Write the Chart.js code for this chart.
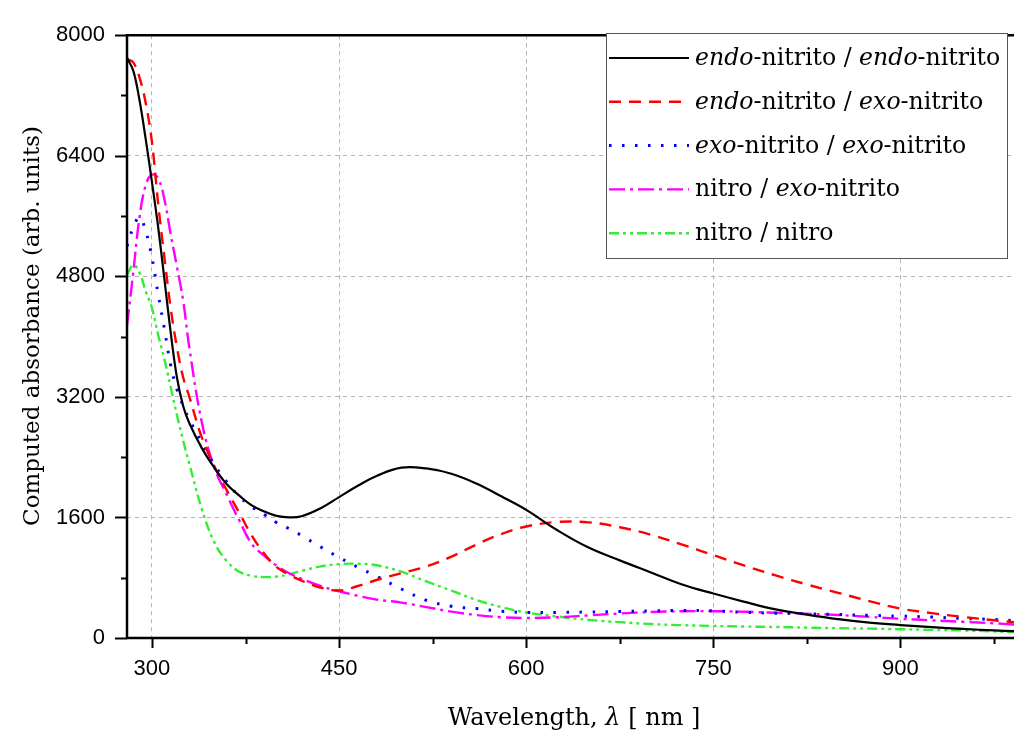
<!DOCTYPE html>
<html>
<head>
<meta charset="utf-8">
<script src="https://cdn.jsdelivr.net/npm/chart.js@4"></script>
<style>
  html, body { margin: 0; padding: 0; background: #fff; }
  canvas { display: block; }
</style>
</head>
<body>
<canvas id="spectra" width="1014" height="733"></canvas>
<script>
// wavelength grid (nm)
const wavelengths = [280, 285, 290, 295, 300, 305, 310, 315, 320, 325, 330, 340, 350, 360, 370, 380, 390, 400, 410, 420,
  435, 450, 465, 480, 500, 520, 540, 560, 580, 600, 625, 650, 675, 700, 725, 750, 775, 800, 825, 850, 875, 900, 925, 950, 975, 991];

// computed absorbance per isomer pair (arb. units)
const endoEndo = [7700, 7530, 7140, 6620, 6050, 5450, 4760, 4060, 3460, 3080, 2850, 2520, 2260, 2040, 1890, 1760, 1680, 1620, 1600, 1615,
  1720, 1870, 2020, 2150, 2260, 2250, 2180, 2050, 1880, 1700, 1430, 1200, 1030, 870, 710, 590, 480, 380, 310, 250, 205, 172, 145, 120, 100, 90];
const endoExo = [7680, 7640, 7440, 7100, 6580, 5760, 5050, 4380, 3860, 3460, 3200, 2660, 2280, 1960, 1660, 1360, 1120, 940, 840, 760,
  670, 630, 690, 770, 860, 950, 1080, 1240, 1380, 1480, 1540, 1535, 1470, 1370, 1240, 1100, 960, 830, 710, 600, 490, 390, 330, 280, 235, 210];
const exoExo = [5200, 5450, 5580, 5400, 5050, 4560, 4100, 3620, 3300, 3080, 2900, 2590, 2300, 2070, 1880, 1740, 1640, 1530, 1450, 1360,
  1210, 1070, 940, 820, 650, 500, 420, 390, 355, 340, 340, 345, 352, 360, 364, 360, 340, 330, 322, 312, 300, 290, 278, 260, 245, 230];
const nitroExo = [4150, 4850, 5580, 6010, 6150, 6100, 5820, 5360, 4930, 4480, 3850, 2860, 2260, 1900, 1560, 1250, 1090, 960, 860, 785,
  690, 620, 560, 510, 470, 410, 350, 305, 275, 265, 275, 300, 325, 345, 355, 356, 348, 335, 322, 305, 280, 255, 235, 215, 195, 180];
const nitroNitro = [4820, 4950, 4850, 4600, 4380, 4020, 3700, 3330, 2960, 2620, 2310, 1710, 1270, 1020, 880, 825, 808, 815, 845, 890,
  950, 980, 985, 965, 880, 750, 630, 505, 410, 340, 285, 240, 210, 185, 170, 160, 152, 146, 138, 130, 124, 117, 108, 100, 88, 78];

const seriesLabels = [
  'endo-nitrito / endo-nitrito',
  'endo-nitrito / exo-nitrito',
  'exo-nitrito / exo-nitrito',
  'nitro / exo-nitrito',
  'nitro / nitro'
];

const xTicks = [300, 375, 450, 525, 600, 675, 750, 825, 900, 975];
const yTicks = [0, 800, 1600, 2400, 3200, 4000, 4800, 5600, 6400, 7200, 8000];
const xStep = 150;
const yStep = 1600;

const SERIF = '"DejaVu Serif", "Liberation Serif", serif';
const SANS = '"Liberation Sans", Arial, sans-serif';

function pts(ys) {
  return wavelengths.map((x, i) => ({ x: x, y: ys[i] }));
}

const styles = [
  { color: '#000000', width: 2.2, dash: [] },
  { color: '#ff0000', width: 2.4, dash: [12, 8] },
  { color: '#0000ff', width: 3, dash: [2.5, 10.5] },
  { color: '#ff00ff', width: 2.4, dash: [16, 5, 3, 5] },
  { color: '#33ee33', width: 2.4, dash: [10, 4, 3, 4, 3, 4] }
];

const seriesData = [endoEndo, endoExo, exoExo, nitroExo, nitroNitro];

const datasets = seriesData.map((ys, i) => ({
  label: seriesLabels[i],
  data: pts(ys),
  borderColor: styles[i].color,
  borderWidth: styles[i].width,
  borderDash: styles[i].dash,
  pointRadius: 0,
  fill: false,
  tension: 0.4
}));

// draws words like "endo"/"exo" and symbols in italic, the rest upright
function drawRich(ctx, parts, x, y, size) {
  let cx = x;
  parts.forEach(p => {
    ctx.font = (p.italic ? 'italic ' : '') + size + 'px ' + SERIF;
    ctx.fillText(p.text, cx, y);
    cx += ctx.measureText(p.text).width;
  });
  return cx - x;
}

function richWidth(ctx, parts, size) {
  let w = 0;
  parts.forEach(p => {
    ctx.font = (p.italic ? 'italic ' : '') + size + 'px ' + SERIF;
    w += ctx.measureText(p.text).width;
  });
  return w;
}

function splitLabel(label) {
  return label.split(/(endo|exo)/).filter(s => s.length).map(s => ({ text: s, italic: s === 'endo' || s === 'exo' }));
}

const framePlugin = {
  id: 'frame',
  afterDraw(chart) {
    const ctx = chart.ctx;
    const a = chart.chartArea;
    const xs = chart.scales.x;
    const ys = chart.scales.y;

    ctx.save();
    ctx.strokeStyle = '#000';
    ctx.setLineDash([]);

    // axis lines
    ctx.lineWidth = 2.5;
    ctx.beginPath();
    ctx.moveTo(a.right, a.top);
    ctx.lineTo(a.left, a.top);
    ctx.lineTo(a.left, a.bottom);
    ctx.lineTo(a.right, a.bottom);
    ctx.stroke();

    // tick marks, outward
    ctx.lineWidth = 2;
    xTicks.forEach(v => {
      const px = Math.round(xs.getPixelForValue(v)) + 0.5;
      const len = v % xStep === 0 ? 10 : 6;
      ctx.beginPath();
      ctx.moveTo(px, a.bottom);
      ctx.lineTo(px, a.bottom + len);
      ctx.stroke();
    });
    yTicks.forEach(v => {
      const py = Math.round(ys.getPixelForValue(v)) + 0.5;
      const len = v % yStep === 0 ? 12 : 6;
      ctx.beginPath();
      ctx.moveTo(a.left - len, py);
      ctx.lineTo(a.left, py);
      ctx.stroke();
    });

    // axis titles
    ctx.fillStyle = '#000';
    ctx.textBaseline = 'alphabetic';
    ctx.textAlign = 'left';
    const xTitle = [{ text: 'Wavelength, ' }, { text: 'λ', italic: true }, { text: ' [ nm ]' }];
    const tw = richWidth(ctx, xTitle, 24);
    drawRich(ctx, xTitle, 574 - tw / 2, 725, 24);

    ctx.save();
    ctx.translate(39, 326);
    ctx.rotate(-Math.PI / 2);
    ctx.font = '23px ' + SERIF;
    ctx.textAlign = 'center';
    ctx.fillText('Computed absorbance (arb. units)', 0, 0);
    ctx.restore();

    // legend box
    const bx = 606, by = 33, bw = 401, bh = 225;
    ctx.fillStyle = '#fff';
    ctx.fillRect(bx, by, bw, bh);
    ctx.strokeStyle = '#555';
    ctx.lineWidth = 1;
    ctx.strokeRect(bx + 0.5, by + 0.5, bw, bh);

    chart.data.datasets.forEach((ds, i) => {
      const rowY = 58 + i * 43.8;
      ctx.strokeStyle = ds.borderColor;
      ctx.lineWidth = ds.borderWidth;
      ctx.setLineDash(ds.borderDash);
      ctx.beginPath();
      ctx.moveTo(609, rowY);
      ctx.lineTo(689, rowY);
      ctx.stroke();
      ctx.setLineDash([]);
      ctx.fillStyle = '#000';
      drawRich(ctx, splitLabel(ds.label), 695, rowY + 7, 23.6);
    });
    ctx.restore();
  }
};

new Chart(document.getElementById('spectra'), {
  type: 'line',
  data: { datasets: datasets },
  options: {
    responsive: false,
    devicePixelRatio: 1,
    animation: false,
    layout: { padding: { top: 23, right: 0, left: 0, bottom: 0 } },
    plugins: {
      legend: { display: false },
      tooltip: { enabled: false }
    },
    scales: {
      x: {
        type: 'linear',
        min: 280,
        max: 991,
        afterBuildTicks: s => { s.ticks = xTicks.map(v => ({ value: v })); },
        afterFit: s => { s.height = 95; },
        ticks: {
          autoSkip: false,
          maxRotation: 0,
          padding: 18,
          color: '#000',
          font: { family: SANS, size: 22 },
          callback: v => (v % xStep === 0 ? String(v) : '')
        },
        grid: {
          drawTicks: false,
          lineWidth: 1,
          color: c => (c.tick && c.tick.value % xStep === 0 ? '#b4b4b4' : 'rgba(0,0,0,0)')
        },
        border: { display: false, dash: [4, 4] }
      },
      y: {
        min: 0,
        max: 8000,
        afterBuildTicks: s => { s.ticks = yTicks.map(v => ({ value: v })); },
        afterFit: s => { s.width = 127; },
        ticks: {
          autoSkip: false,
          padding: 22,
          color: '#000',
          font: { family: SANS, size: 22 },
          callback: v => (v % yStep === 0 ? String(v) : '')
        },
        grid: {
          drawTicks: false,
          lineWidth: 1,
          color: c => (c.tick && c.tick.value % yStep === 0 && c.tick.value > 0 ? '#b4b4b4' : 'rgba(0,0,0,0)')
        },
        border: { display: false, dash: [4, 4] }
      }
    }
  },
  plugins: [framePlugin]
});
</script>
</body>
</html>
